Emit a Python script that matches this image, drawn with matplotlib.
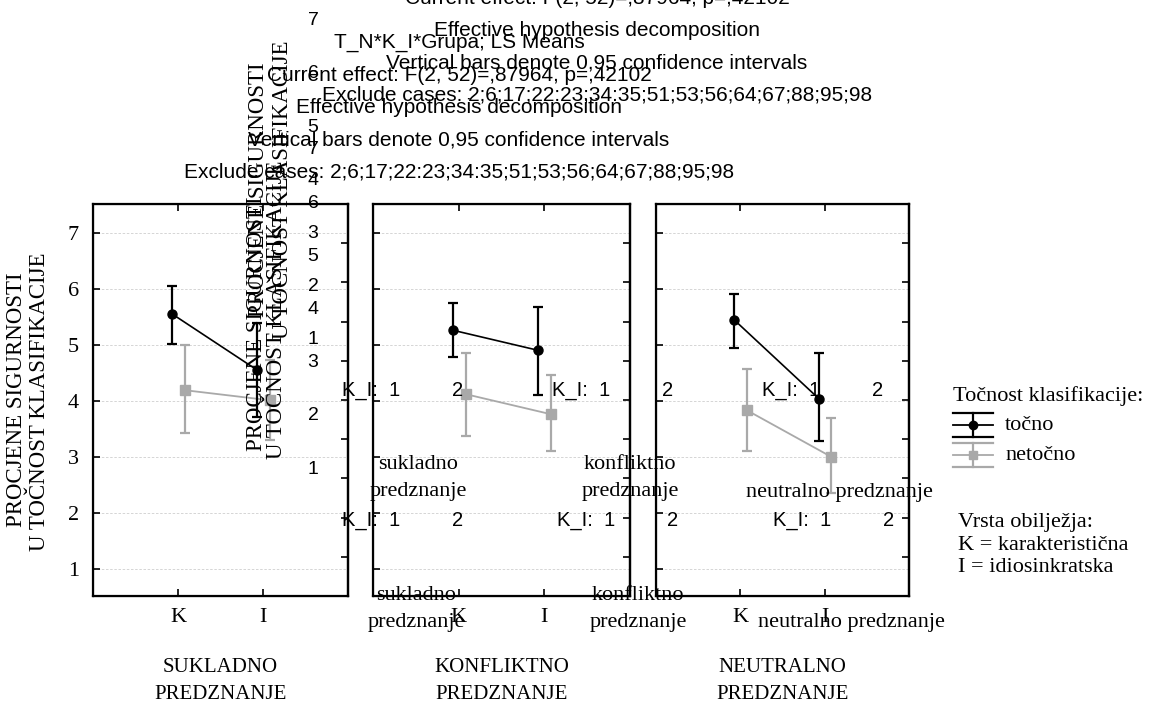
import numpy as np
import matplotlib.pyplot as plt
from matplotlib.lines import Line2D

W, H = 1157, 707
SERIF = ['Liberation Serif', 'DejaVu Serif']
SANS = ['Liberation Sans', 'DejaVu Sans']
plt.rcParams['font.family'] = SERIF
GRAY = '#a9a9a9'

groups = ['SUKLADNO\nPREDZNANJE', 'KONFLIKTNO\nPREDZNANJE', 'NEUTRALNO\nPREDZNANJE']
kinds = ['K', 'I']

# LS means with 0.95 CI, rows = predznanje, cols = K, I
tocno_mean = np.array([[5.55, 4.55], [5.26, 4.90], [5.44, 4.04]])
tocno_lo = np.array([[5.01, 3.72], [4.79, 4.10], [4.94, 3.29]])
tocno_hi = np.array([[6.05, 5.39], [5.75, 5.67], [5.91, 4.85]])
netocno_mean = np.array([[4.19, 4.01], [4.12, 3.76], [3.83, 3.00]])
netocno_lo = np.array([[3.43, 3.30], [3.38, 3.11], [3.10, 2.35]])
netocno_hi = np.array([[4.99, 4.73], [4.85, 4.46], [4.57, 3.70]])

header = ['T_N*K_I*Grupa; LS Means',
          'Current effect: F(2, 52)=,87964, p=,42102',
          'Effective hypothesis decomposition',
          'Vertical bars denote 0,95 confidence intervals',
          'Exclude cases: 2;6;17;22:23;34:35;51;53;56;64;67;88;95;98']
ylabel = ['PROCJENE SIGURNOSTI', 'U TOČNOST KLASIFIKACIJE']
yvals = [7, 6, 5, 4, 3, 2, 1]
prior = ['sukladno\npredznanje', 'konfliktno\npredznanje', 'neutralno predznanje']

fig = plt.figure(figsize=(W / 100, H / 100), dpi=100)

# panel edges in pixels
panels = [(93, 348), (373, 630), (656, 909)]
top, bottom = 204, 596
x = np.arange(1, 3)

for i, (l, r) in enumerate(panels):
    ax = fig.add_axes([l / W, 1 - bottom / H, (r - l) / W, (bottom - top) / H])
    ax.set_xlim(0, 3)
    ax.set_ylim(0.52, 7.51)
    ax.set_yticks(range(1, 8))
    ax.yaxis.grid(True, ls=(0, (3, 2)), color='#cfcfcf', lw=0.6)
    ax.set_axisbelow(True)

    m = netocno_mean[i]
    ax.errorbar(x + 0.08, m, yerr=[m - netocno_lo[i], netocno_hi[i] - m],
                color=GRAY, marker='s', ms=6.5, lw=1.3, elinewidth=1.6,
                capsize=3.5, capthick=1.6, zorder=3)
    m = tocno_mean[i]
    ax.errorbar(x - 0.07, m, yerr=[m - tocno_lo[i], tocno_hi[i] - m],
                color='black', marker='o', ms=6.5, lw=1.2, elinewidth=1.6,
                capsize=3.5, capthick=1.6, zorder=4)

    ax.set_xticks(x, kinds)
    ax.tick_params(direction='in', top=True, length=5, width=1.2,
                   labelsize=16, pad=9)
    ax.tick_params(axis='y', pad=10)
    if i > 0:
        ax.tick_params(labelleft=False)
    for s in ax.spines.values():
        s.set_linewidth(1.6)

    rax = ax.twinx()
    rax.set_ylim(0, 10)
    rax.set_yticks(range(1, 10))
    rax.tick_params(direction='in', length=5, width=1.2, labelright=False)
    rax.spines['right'].set_linewidth(1.6)

    fig.text((l + r) / 2 / W, 1 - 681 / H, groups[i], ha='center',
             va='center', fontsize=15, linespacing=1.6)

# overlay in pixel coordinates for the loose text layer
ov = fig.add_axes([0, 0, 1, 1])
ov.set_xlim(0, W)
ov.set_ylim(H, 0)
ov.axis('off')

for y0, cx in [(-34, 597), (43, 459)]:
    for k, line in enumerate(header):
        ov.text(cx, y0 + 32.3 * k, line, ha='center', va='center',
                fontsize=15, family=SANS)

for y0 in [20.7, 150]:
    for k, v in enumerate(yvals):
        ov.text(313, y0 + 53.2 * k, str(v), ha='center', va='center',
                fontsize=14, family=SANS)

# y label and its two stray copies
for (x1, y1), (x2, y2) in [((17, 400), (40, 402)),
                           ((258, 190), (283, 190)),
                           ((256, 324), (276, 310))]:
    ov.text(x1, y1, ylabel[0], rotation=90, ha='center', va='center', fontsize=16.5)
    ov.text(x2, y2, ylabel[1], rotation=90, ha='center', va='center', fontsize=16.5)

# K_I level rows
for y0, starts in [(390, [342, 552, 762]), (521, [342, 557, 773])]:
    for sx in starts:
        ov.text(sx, y0, 'K_I:  1', ha='left', va='center', fontsize=14.5, family=SANS)
        ov.text(sx + 110, y0, '2', ha='left', va='center', fontsize=14.5, family=SANS)

for dy, cxs in [(0, [418, 630, 839]), (131, [416, 638, 851])]:
    ov.text(cxs[0], 478 + dy, prior[0], ha='center', va='center',
            fontsize=16, linespacing=1.6)
    ov.text(cxs[1], 478 + dy, prior[1], ha='center', va='center',
            fontsize=16, linespacing=1.6)
    ov.text(cxs[2], 492 + dy, prior[2], ha='center', va='center', fontsize=16)

# legend
ov.text(953, 396, 'Točnost klasifikacije:', ha='left', va='center', fontsize=16)
for yc, col, mk, lab in [(425, 'black', 'o', 'točno'), (455, GRAY, 's', 'netočno')]:
    for dy in (-12, 12):
        ov.add_line(Line2D([953, 993], [yc + dy, yc + dy], color=col, lw=1.6))
    ov.add_line(Line2D([953, 993], [yc, yc], color=col, lw=1.3))
    ov.add_line(Line2D([973, 973], [yc - 12, yc + 12], color=col, lw=1.6))
    ov.plot([973], [yc], marker=mk, color=col, ms=6)
    ov.text(1005, yc, lab, ha='left', va='center', fontsize=16)

for k, line in enumerate(['Vrsta obilježja:', 'K = karakteristična', 'I = idiosinkratska']):
    ov.text(958, 522 + 23 * k, line, ha='left', va='center', fontsize=16)

fig.savefig('out.png', dpi=100)
